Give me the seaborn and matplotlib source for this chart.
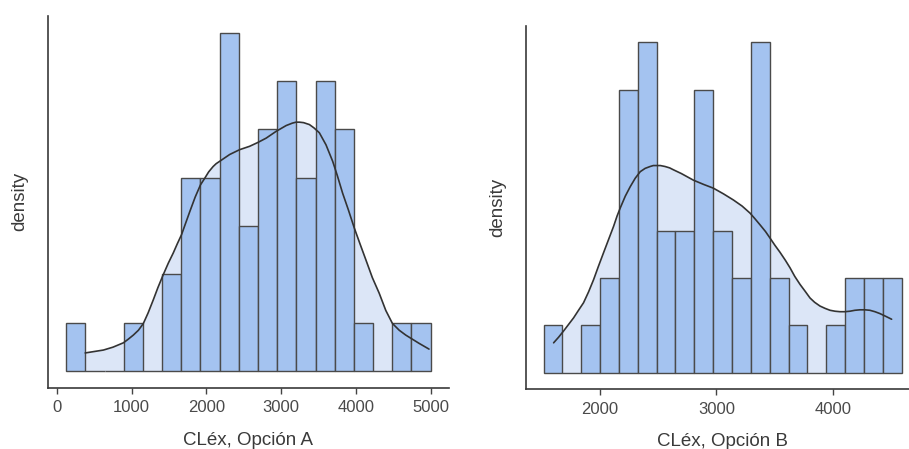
import numpy as np
import pandas as pd
import matplotlib
matplotlib.use("Agg")
import matplotlib.pyplot as plt
import seaborn as sns

# ---------------- data ----------------
# Panel A: CLéx, Opción A  (19 equal-width bins)
a_bin_range = (124, 5000)
a_counts = [1, 0, 0, 1, 0, 2, 4, 4, 7, 3, 5, 6, 4, 6, 5, 1, 0, 1, 1]
a_kde_x = [378, 500, 622, 750, 889, 950, 1022, 1090, 1156, 1220, 1289, 1350,
           1422, 1490, 1556, 1610, 1667, 1720, 1778, 1850, 1920, 1978, 2030,
           2089, 2130, 2178, 2311, 2444, 2578, 2689, 2800, 2933, 3067, 3150,
           3200, 3244, 3300, 3378, 3440, 3511, 3600, 3689, 3750, 3822, 3900,
           3978, 4050, 4133, 4220, 4311, 4400, 4489, 4580, 4667, 4844, 4978]
# kde heights in "count-equivalent" units
a_kde_c = [0.37, 0.40, 0.43, 0.49, 0.58, 0.65, 0.74, 0.84, 0.98, 1.20, 1.47, 1.72,
           1.99, 2.23, 2.44, 2.63, 2.82, 3.05, 3.30, 3.60, 3.85, 3.99, 4.12,
           4.23, 4.29, 4.34, 4.48, 4.58, 4.65, 4.73, 4.82, 4.96, 5.08, 5.13,
           5.15, 5.15, 5.14, 5.10, 5.03, 4.93, 4.68, 4.34, 4.05, 3.68, 3.33,
           2.96, 2.65, 2.30, 1.93, 1.61, 1.25, 0.98, 0.84, 0.74, 0.57, 0.45]
a_xticks = [0, 1000, 2000, 3000, 4000, 5000]
a_label = "CLéx, Opción A"

# Panel B: CLéx, Opción B
b_bin_range = (1521, 4584)
b_counts = [1, 0, 1, 2, 6, 7, 3, 3, 6, 3, 2, 7, 2, 1, 0, 1, 2, 2, 2]
b_kde_x = [1607, 1650, 1692, 1735, 1778, 1820, 1863, 1906, 1949, 1990, 2034,
           2077, 2120, 2150, 2177, 2220, 2262, 2305, 2348, 2390, 2433, 2460,
           2490, 2520, 2560, 2600, 2632, 2700, 2803, 2890, 2974, 3060, 3145,
           3220, 3288, 3330, 3374, 3420, 3459, 3500, 3544, 3590, 3630, 3670,
           3715, 3760, 3801, 3840, 3886, 3930, 3972, 4015, 4057, 4100, 4142,
           4185, 4228, 4270, 4313, 4356, 4399, 4450, 4499]
b_kde_c = [0.63, 0.75, 0.88, 1.02, 1.16, 1.32, 1.48, 1.71, 1.97, 2.25, 2.54,
           2.82, 3.10, 3.32, 3.49, 3.74, 3.94, 4.12, 4.26, 4.33, 4.37, 4.39,
           4.39, 4.39, 4.37, 4.34, 4.30, 4.22, 4.08, 3.99, 3.91, 3.79, 3.66,
           3.53, 3.38, 3.26, 3.13, 2.99, 2.85, 2.70, 2.55, 2.38, 2.22, 2.04,
           1.87, 1.72, 1.58, 1.49, 1.41, 1.36, 1.32, 1.30, 1.29, 1.29, 1.30,
           1.32, 1.33, 1.33, 1.32, 1.29, 1.25, 1.19, 1.13]
b_xticks = [2000, 3000, 4000]
b_label = "CLéx, Opción B"

y_label = "density"

# ---------------- style ----------------
sns.set_style("white")
plt.rcParams["font.family"] = ["Liberation Sans", "DejaVu Sans"]

BAR = "#A4C3F0"
EDGE = "#4a4a4a"
FILL = "#DCE6F7"
LINE = "#333333"
AXC = "#3a3a3a"

fig = plt.figure(figsize=(9.09, 4.49), dpi=100)
axA = fig.add_axes([0.0528, 0.1365, 0.441, 0.828])
axB = fig.add_axes([0.5783, 0.1336, 0.4332, 0.8085])


def panel(ax, rng, counts, kx, kc, xticks, xlabel):
    nb = len(counts)
    width = (rng[1] - rng[0]) / nb
    centers = [rng[0] + (i + 0.5) * width for i in range(nb)]
    n = sum(counts)
    df = pd.DataFrame({"x": centers, "w": counts})
    kde = pd.DataFrame({"x": kx, "y": np.array(kc) / (n * width)})

    ax.fill_between(kde["x"], kde["y"], 0, color=FILL, linewidth=0, zorder=0.5)
    sns.histplot(data=df, x="x", weights="w", bins=nb, binrange=rng,
                 stat="density", color=BAR, edgecolor=EDGE, linewidth=1.0,
                 alpha=1.0, ax=ax, zorder=1)
    line = sns.lineplot(data=kde, x="x", y="y", color=LINE, linewidth=1.2,
                        ax=ax, zorder=3)
    for l in ax.lines:
        l.set_solid_joinstyle("round")
        l.set_solid_capstyle("round")

    span = rng[1] - rng[0]
    ax.set_xlim(rng[0] - 0.05 * span, rng[1] + 0.05 * span)
    top = max(counts) / (n * width)
    ax.set_ylim(-0.05 * top, 1.05 * top)
    ax.set_xticks(xticks)
    ax.set_xticklabels([str(t) for t in xticks])
    ax.set_yticks([])
    ax.set_xlabel(xlabel, fontsize=13.5, color=AXC, labelpad=12)
    ax.set_ylabel(y_label, fontsize=13.5, color=AXC, labelpad=14)
    ax.tick_params(axis="x", direction="out", length=4, width=1.0,
                   colors="#444444", labelsize=12, pad=5, bottom=True)
    for t in ax.get_xticklabels():
        t.set_color("#4a4a4a")
    sns.despine(ax=ax)
    for s in ("left", "bottom"):
        ax.spines[s].set_color(AXC)
        ax.spines[s].set_linewidth(1.2)


panel(axA, a_bin_range, a_counts, a_kde_x, a_kde_c, a_xticks, a_label)
panel(axB, b_bin_range, b_counts, b_kde_x, b_kde_c, b_xticks, b_label)

fig.savefig("out.png", dpi=100)
